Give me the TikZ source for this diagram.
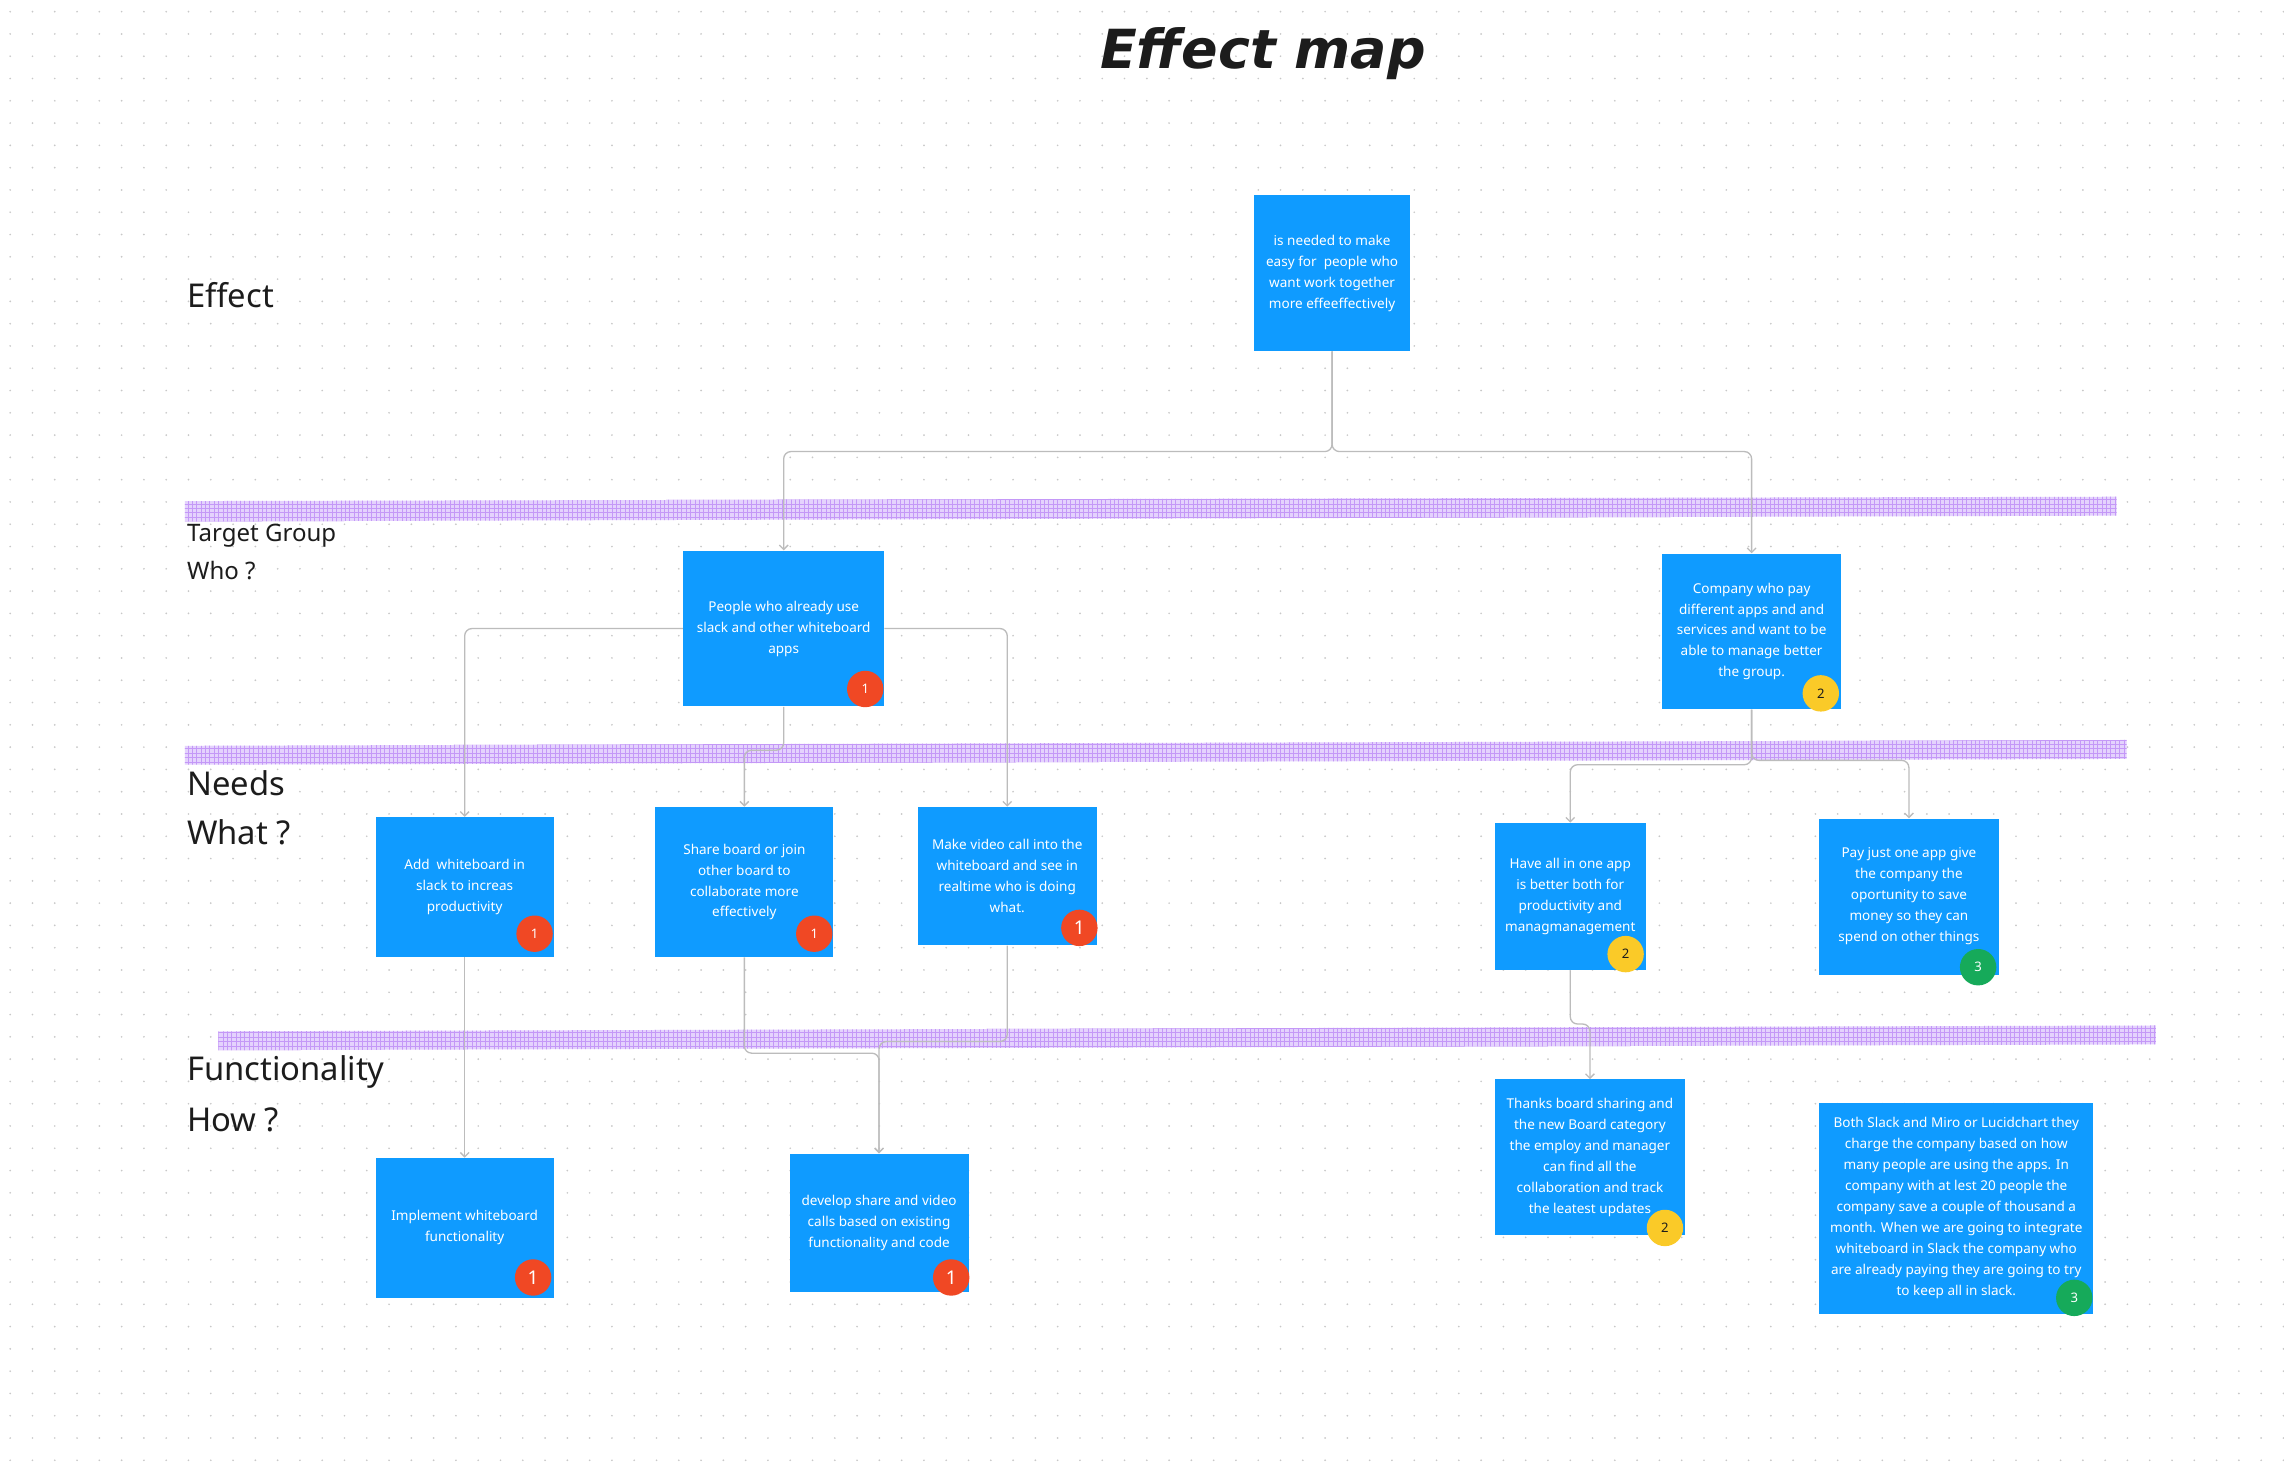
\documentclass[tikz,border=0pt]{standalone}
\usepackage{fontspec}
\setmainfont{Noto Sans}
\newfontfamily\titlefont{DejaVu Sans}
\usetikzlibrary{arrows.meta,patterns}
\definecolor{boxblue}{RGB}{15,155,255}
\definecolor{conngray}{RGB}{188,188,188}
\definecolor{stripecol}{RGB}{228,210,253}
\definecolor{stripeline}{RGB}{196,152,247}
\definecolor{dotgray}{RGB}{200,200,200}
\definecolor{bred}{RGB}{240,72,36}
\definecolor{byellow}{RGB}{250,202,40}
\definecolor{bgreen}{RGB}{22,170,90}
\definecolor{txtcol}{RGB}{28,28,28}
\begin{document}
\begin{tikzpicture}[x=1pt,y=-1pt,
  box/.style={fill=boxblue, text=white, inner sep=0pt, align=center, font=\fontsize{9.3}{14.4}\selectfont},
  conn/.style={draw=conngray, line width=0.9pt, rounded corners=5pt, -{Straight Barb[length=3pt,width=6pt]}},
  badge/.style={circle, inner sep=0pt, minimum size=25pt, font=\fontsize{9}{10}\selectfont},
  bigbadge/.style={badge, font=\fontsize{13}{14}\selectfont},
  redb/.style={fill=bred, text=white},
  yelb/.style={fill=byellow, text=txtcol},
  greb/.style={fill=bgreen, text=white},
  biglab/.style={anchor=base west, text=txtcol, font=\fontsize{22.5}{26}\selectfont},
  midlab/.style={anchor=base west, text=txtcol, font=\fontsize{16.5}{20}\selectfont},
  stripe/.style={fill=stripecol},
  stripemesh/.style={pattern=grid, pattern color=stripeline}
]
\useasboundingbox (0,0) rectangle (1568,1009);
\fill[white] (0,0) rectangle (1568,1009);
% dot grid
\foreach \r in {0,...,65} {
  \draw[dotgray, line width=1.3pt, line cap=round, dash pattern=on 0pt off 15.3pt] (7,{8+\r*15.3}) -- (1568,{8+\r*15.3});
}
% stripes
\fill[stripe] (127,344) -- (1453,341) -- (1453,354) -- (127,358) -- cycle;
\fill[stripe] (127,512) -- (1460,508) -- (1460,521) -- (127,525) -- cycle;
\fill[stripe] (150,708) -- (1480,704) -- (1480,717) -- (150,721) -- cycle;
\fill[stripemesh] (127,344) -- (1453,341) -- (1453,354) -- (127,358) -- cycle;
\fill[stripemesh] (127,512) -- (1460,508) -- (1460,521) -- (127,525) -- cycle;
\fill[stripemesh] (150,708) -- (1480,704) -- (1480,717) -- (150,721) -- cycle;

% title
\node[anchor=base, text=txtcol, font=\titlefont\fontsize{37}{42}\selectfont\bfseries\itshape] (title) at (867,47) {Effect map};

% row labels
\node[biglab] (leff) at (125,211) {Effect};
\node[midlab] (ltg) at (125,372) {Target Group};
\node[midlab] (lwho) at (125,397.5) {Who ?};
\node[biglab] (lneeds) at (125,546) {Needs};
\node[biglab] (lwhat) at (125,580) {What ?};
\node[biglab] (lfun) at (125,742) {Functionality};
\node[biglab] (lhow) at (125,777) {How ?};

% boxes
\node[box, minimum width=107pt, minimum height=107pt] (eff) at (914.5,187.5)
  {is needed to make\\easy for\ \ people who\\want work together\\more effeeffectively};
\node[box, minimum width=138pt, minimum height=107pt] (pp) at (538,431.5)
  {People who already use\\slack and other whiteboard\\apps};
\node[box, minimum width=123pt, minimum height=107pt] (co) at (1202.5,433.5)
  {Company who pay\\different apps and and\\services and want to be\\able to manage better\\the group.};
\node[box, minimum width=122pt, minimum height=96pt] (add) at (319,609)
  {Add\ \ whiteboard in\\slack to increas\\productivity};
\node[box, minimum width=122pt, minimum height=103pt] (sh) at (511,605.5)
  {Share board or join\\other board to\\collaborate more\\effectively};
\node[box, minimum width=123pt, minimum height=95pt] (mv) at (691.5,601.5)
  {Make video call into the\\whiteboard and see in\\realtime who is doing\\what.};
\node[box, minimum width=104pt, minimum height=101pt] (have) at (1078,615.5)
  {Have all in one app\\is better both for\\productivity and\\managmanagement};
\node[box, minimum width=123pt, minimum height=107pt] (pay) at (1310.5,615.5)
  {Pay just one app give\\the company the\\oportunity to save\\money so they can\\spend on other things};
\node[box, minimum width=122pt, minimum height=96pt] (impl) at (319,843)
  {Implement whiteboard\\functionality};
\node[box, minimum width=123pt, minimum height=95pt] (dev) at (603.5,839.5)
  {develop share and video\\calls based on existing\\functionality and code};
\node[box, minimum width=131pt, minimum height=107pt] (thx) at (1091.5,794.5)
  {Thanks board sharing and\\the new Board category\\the employ and manager\\can find all the\\collaboration and track\\the leatest updates};
\node[box, minimum width=188pt, minimum height=145pt] (both) at (1343,829.5)
  {Both Slack and Miro or Lucidchart they\\charge the company based on how\\many people are using the apps. In\\company with at lest 20 people the\\company save a couple of thousand a\\month. When we are going to integrate\\whiteboard in Slack the company who\\are already paying they are going to try\\to keep all in slack.};

% badges
\node[badge, redb] (bpp) at (594,473) {1};
\node[badge, yelb] (bco) at (1250,476) {2};
\node[badge, redb] (badd) at (367,641) {1};
\node[badge, redb] (bsh) at (559,641) {1};
\node[bigbadge, redb] (bmv) at (741,637) {1};
\node[badge, yelb] (bhave) at (1116,655) {2};
\node[badge, greb] (bpay) at (1358,664) {3};
\node[bigbadge, redb] (bimpl) at (366,877) {1};
\node[bigbadge, redb] (bdev) at (653,877) {1};
\node[badge, yelb] (bthx) at (1143,843) {2};
\node[badge, greb] (bboth) at (1424,891) {3};

% connectors
\draw[conn] (eff.south) -- (914.5,310) -| (pp.north);
\draw[conn] (eff.south) -- (914.5,310) -| (co.north);
\draw[conn] (pp.west) -| (add.north);
\draw[conn] (pp.east) -| (mv.north);
\draw[conn] (pp.south) -- (538,515) -| (sh.north);
\draw[conn] (add.south) -- (impl.north);
\draw[conn] (sh.south) -- (511,723) -| (dev.north);
\draw[conn] (mv.south) -- (691.5,715) -| (dev.north);
\draw[conn] (co.south) -- (1202.5,525) -| (have.north);
\draw[conn] (co.south) -- (1202.5,522) -| (pay.north);
\draw[conn] (have.south) -- (1078,703) -| (thx.north);
\end{tikzpicture}
\end{document}
